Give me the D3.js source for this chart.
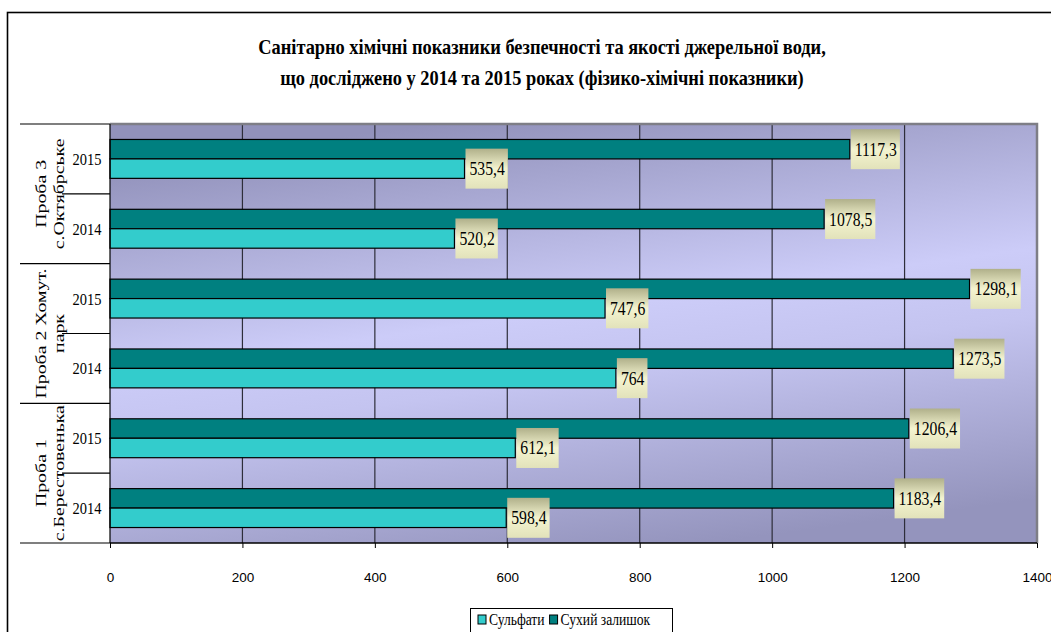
<!DOCTYPE html>
<html>
<head>
<meta charset="utf-8">
<script src="https://cdn.jsdelivr.net/npm/d3@7"></script>
<style>
  html, body { margin: 0; padding: 0; background: #fff; overflow: hidden; }
  svg { display: block; }
</style>
</head>
<body>
<svg id="chart" width="1051" height="632"></svg>
<script>
// ---- data ----
const titleLines = [
  "Санітарно хімічні показники безпечності та якості джерельної води,",
  "що досліджено у 2014 та 2015 роках (фізико-хімічні показники)"
];
const groupLine1 = ["Проба 1", "Проба 2 Хомут.", "Проба 3"];
const groupLine2 = ["с.Берестовенька", "парк", "с.Октябрське"];
const years = ["2014", "2015", "2014", "2015", "2014", "2015"];
const seriesNames = ["Сульфати", "Сухий залишок"];
const sulfates = [598.4, 612.1, 764, 747.6, 520.2, 535.4];
const dryResidue = [1183.4, 1206.4, 1273.5, 1298.1, 1078.5, 1117.3];
const xTicks = [0, 200, 400, 600, 800, 1000, 1200, 1400];

// ---- layout ----
const plot = { left: 110, right: 1037, top: 124, bottom: 543 };
const colors = { sulf: "#33CCCC", dry: "#008080" };
const serif = "'Liberation Serif', 'Times New Roman', serif";
const sans = "'Liberation Sans', Arial, sans-serif";
const SX = 0.85; // horizontal squeeze of serif text

const svg = d3.select("#chart");
const defs = svg.append("defs");

const bg = defs.append("linearGradient").attr("id", "plotBg")
  .attr("x1", "0.35").attr("y1", "0").attr("x2", "0.65").attr("y2", "1");
bg.append("stop").attr("offset", "0").attr("stop-color", "#9292BB");
bg.append("stop").attr("offset", "0.45").attr("stop-color", "#CCCCF8");
bg.append("stop").attr("offset", "0.6").attr("stop-color", "#C4C4F0");
bg.append("stop").attr("offset", "1").attr("stop-color", "#9494BD");

const lab = defs.append("linearGradient").attr("id", "labelBg")
  .attr("x1", "0").attr("y1", "0").attr("x2", "0").attr("y2", "1");
lab.append("stop").attr("offset", "0").attr("stop-color", "#B0B08A");
lab.append("stop").attr("offset", "0.5").attr("stop-color", "#F4F4D0");
lab.append("stop").attr("offset", "1").attr("stop-color", "#E2E2BA");

// outer chart frame
svg.append("rect")
  .attr("x", 7.5).attr("y", 12.5).attr("width", 1060).attr("height", 640)
  .attr("fill", "#fff").attr("stroke", "#000").attr("stroke-width", 1.6);

// title
titleLines.forEach((t, i) => {
  svg.append("text")
    .attr("transform", `translate(542,${54 + i * 31}) scale(0.875,1)`)
    .attr("text-anchor", "middle")
    .attr("font-family", serif).attr("font-weight", "bold")
    .attr("font-size", 21).attr("fill", "#000")
    .text(t);
});

// ---- scales ----
const x = d3.scaleLinear().domain([0, 1400]).range([plot.left, plot.right]);
const order = d3.range(years.length).reverse(); // index 0 at the bottom
const y = d3.scaleBand().domain(order).range([plot.top, plot.bottom])
  .paddingInner(0.443).paddingOuter(0.2215);
const ySub = d3.scaleBand().domain(["dry", "sulf"]).range([0, y.bandwidth()]);

// plot background
svg.append("rect")
  .attr("x", plot.left).attr("y", plot.top)
  .attr("width", plot.right - plot.left).attr("height", plot.bottom - plot.top)
  .attr("fill", "url(#plotBg)");

// vertical gridlines
svg.append("g").selectAll("line")
  .data(xTicks.filter(v => v > 0 && v < 1400)).join("line")
  .attr("x1", d => x(d)).attr("x2", d => x(d))
  .attr("y1", plot.top).attr("y2", plot.bottom)
  .attr("stroke", "#2E2E3A").attr("stroke-width", 1.2);

// plot border (top / right)
svg.append("path")
  .attr("d", `M${plot.left},${plot.top}H${plot.right}V${plot.bottom}`)
  .attr("fill", "none").attr("stroke", "#7E7E86").attr("stroke-width", 2.5);

// bars
const rows = order.map(i => ({ i, sulf: sulfates[i], dry: dryResidue[i] }));
const barG = svg.append("g");
["dry", "sulf"].forEach(key => {
  barG.selectAll(null).data(rows).join("rect")
    .attr("x", x(0))
    .attr("y", d => y(d.i) + ySub(key))
    .attr("width", d => x(d[key]) - x(0))
    .attr("height", ySub.bandwidth())
    .attr("fill", colors[key])
    .attr("stroke", "#000").attr("stroke-width", 1.2);
});

// axes lines
svg.append("line").attr("x1", plot.left).attr("x2", plot.right)
  .attr("y1", plot.bottom).attr("y2", plot.bottom)
  .attr("stroke", "#000").attr("stroke-width", 1.5);
svg.append("line").attr("x1", plot.left).attr("x2", plot.left)
  .attr("y1", plot.top).attr("y2", plot.bottom)
  .attr("stroke", "#000").attr("stroke-width", 1.2);

// x axis
const xAxis = svg.append("g")
  .attr("transform", `translate(0,${plot.bottom})`)
  .call(d3.axisBottom(x).tickValues(xTicks).tickSize(5).tickPadding(24).tickFormat(d3.format("d")));
xAxis.select(".domain").remove();
xAxis.selectAll("line").attr("stroke", "#000");
xAxis.selectAll("text").attr("font-family", sans).attr("font-size", 13.5).attr("fill", "#000");

// category axis: year labels and separators
const step = y.step();
const bandTop = i => y(i) - y.paddingOuter() * step;
years.forEach((yr, i) => {
  const cy = bandTop(i) + step / 2;
  svg.append("text")
    .attr("transform", `translate(87,${cy + 6}) scale(${SX},1)`)
    .attr("text-anchor", "middle")
    .attr("font-family", serif).attr("font-size", 17).attr("fill", "#000")
    .text(yr);
});
// short ticks between years inside a group
[0, 2, 4].forEach(i => {
  const yy = bandTop(i);
  svg.append("line").attr("x1", 62).attr("x2", plot.left)
    .attr("y1", yy).attr("y2", yy).attr("stroke", "#000").attr("stroke-width", 1.2);
});
// long ticks between groups
[-1, 1, 3, 5].forEach(i => {
  const yy = i < 0 ? plot.bottom : bandTop(i);
  svg.append("line").attr("x1", 20).attr("x2", plot.left)
    .attr("y1", yy).attr("y2", yy).attr("stroke", "#000").attr("stroke-width", 1.2);
});
// group labels (rotated, two lines)
groupLine1.forEach((g, k) => {
  const cy = (bandTop(2 * k) + step + bandTop(2 * k + 1)) / 2;
  [g, groupLine2[k]].forEach((t, j) => {
    svg.append("text")
      .attr("transform", `translate(${46 + j * 18},${cy}) rotate(-90) scale(1.28,1)`)
      .attr("text-anchor", "middle")
      .attr("font-family", serif).attr("font-size", 15.5).attr("fill", "#000")
      .text(t);
  });
});

// data labels
const labelG = svg.append("g");
rows.forEach(d => {
  ["dry", "sulf"].forEach(key => {
    const v = d[key];
    const txt = String(v).replace(".", ",");
    const bx = x(v) + 1;
    const cy = y(d.i) + ySub(key) + ySub.bandwidth() / 2;
    const g = labelG.append("g");
    const rect = g.append("rect");
    const t = g.append("text")
      .attr("transform", `translate(${bx + 4},${cy + 6.5}) scale(${SX},1)`)
      .attr("font-family", serif).attr("font-size", 18.5).attr("fill", "#000")
      .text(txt);
    const w = t.node().getComputedTextLength() * SX + 7;
    rect.attr("x", bx).attr("y", cy - 20).attr("width", w).attr("height", 40)
      .attr("fill", "url(#labelBg)");
  });
});

// legend
const leg = svg.append("g");
leg.append("rect").attr("x", 470.5).attr("y", 608.5).attr("width", 202).attr("height", 30)
  .attr("fill", "#fff").attr("stroke", "#000").attr("stroke-width", 1);
let lx = 478;
seriesNames.forEach((n, i) => {
  leg.append("rect").attr("x", lx).attr("y", 615).attr("width", 8).attr("height", 9)
    .attr("fill", i === 0 ? colors.sulf : colors.dry).attr("stroke", "#000").attr("stroke-width", 1);
  const t = leg.append("text")
    .attr("transform", `translate(${lx + 11},${625}) scale(${SX},1)`)
    .attr("font-family", serif).attr("font-size", 16).attr("fill", "#000")
    .text(n);
  lx += 11 + t.node().getComputedTextLength() * SX + 5;
});
</script>
</body>
</html>
